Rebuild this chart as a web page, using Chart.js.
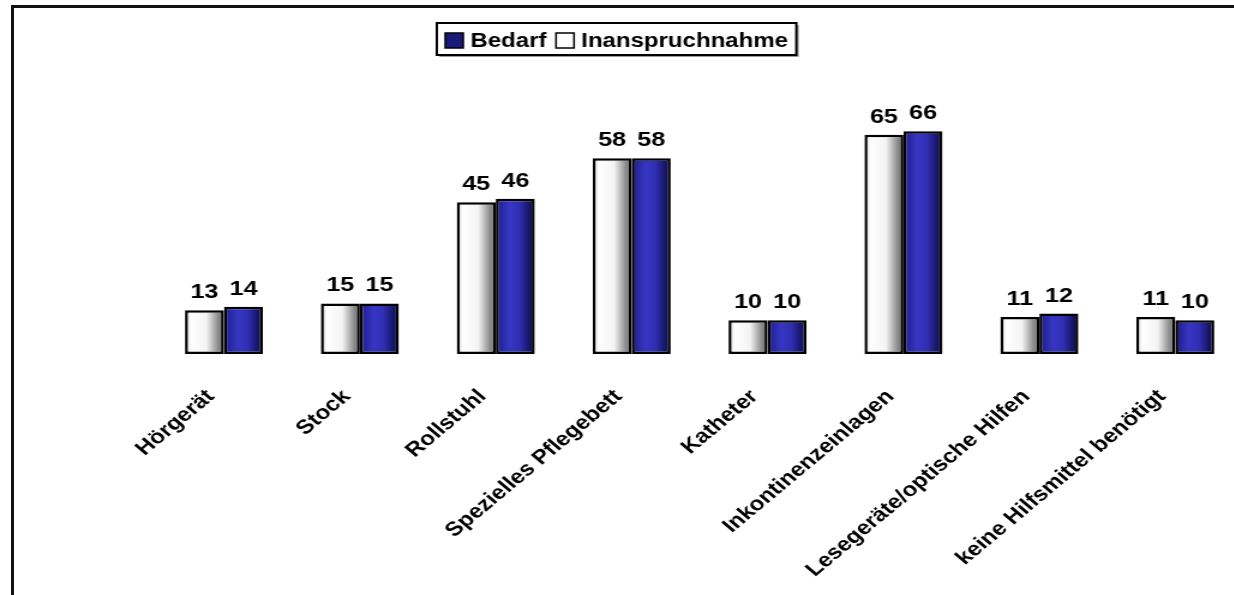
<!DOCTYPE html>
<html><head><meta charset="utf-8">
<script src="https://cdn.jsdelivr.net/npm/chart.js@4.4.1/dist/chart.umd.min.js"></script>
<style>
html,body{margin:0;padding:0;background:#fff;overflow:hidden;width:1234px;height:595px;}
#frame{position:absolute;left:11px;top:5px;width:1300px;height:700px;border:3px solid #111;box-sizing:border-box;}
#wrap{position:absolute;left:0;top:0;width:1050px;height:595px;transform:scaleX(1.2);transform-origin:0 0;}
</style></head><body>
<div id="frame"></div>
<div id="wrap"><canvas id="c" width="1050" height="595"></canvas></div>
<script>
const categories = ['Hörgerät','Stock','Rollstuhl','Spezielles Pflegebett','Katheter','Inkontinenzeinlagen','Lesegeräte/optische Hilfen','keine Hilfsmittel benötigt'];
const inanspruchnahme = [13, 15, 45, 58, 10, 65, 11, 11];
const bedarf = [14, 15, 46, 58, 10, 66, 12, 10];
const seriesNames = ['Inanspruchnahme', 'Bedarf'];
const yMax = 80;

const FONT = '"Liberation Sans", Arial, sans-serif';
const CAT_PCT = 0.574;
const whiteStops = [[0,'#c4c4c4'],[0.15,'#ffffff'],[0.55,'#f4f4f4'],[0.85,'#8c8c8c'],[1,'#6a6a6a']];
const blueStops = [[0,'#1c1c86'],[0.35,'#3636c4'],[0.6,'#3030b4'],[1,'#08083e']];
const legendSwatch = ['#ffffff', '#1a1a7a'];

function barGradient(ctx, stops){
  const chart = ctx.chart;
  const xs = chart.scales.x;
  if (!xs || !chart.chartArea || ctx.type !== 'data') return stops[1][1];
  const catW = (xs.right - xs.left) / categories.length;
  const barW = catW * CAT_PCT / 2;
  const c = xs.getPixelForValue(ctx.dataIndex);
  const left = c - barW + ctx.datasetIndex * barW;
  const g = chart.ctx.createLinearGradient(left, 0, left + barW, 0);
  stops.forEach(s => g.addColorStop(s[0], s[1]));
  return g;
}

const valueLabels = {
  id: 'valueLabels',
  afterDatasetsDraw(chart){
    const ctx = chart.ctx;
    ctx.save();
    ctx.font = 'bold 21px ' + FONT;
    ctx.fillStyle = '#000';
    ctx.textAlign = 'center';
    ctx.textBaseline = 'alphabetic';
    chart.data.datasets.forEach((ds, i) => {
      chart.getDatasetMeta(i).data.forEach((el, j) => {
        ctx.fillText(String(ds.data[j]), el.x, el.y - 12);
      });
    });
    ctx.restore();
  }
};

const boxLegend = {
  id: 'boxLegend',
  afterDraw(chart){
    const ctx = chart.ctx;
    const order = [1, 0];
    ctx.save();
    ctx.font = 'bold 20px ' + FONT;
    const x0 = 364, y0 = 23, h = 32, sw = 15, gap = 6, itemGap = 8, pad = 7;
    const widths = order.map(i => ctx.measureText(chart.data.datasets[i].label).width);
    const total = pad * 2 + order.length * (sw + gap) + widths.reduce((a, b) => a + b, 0) + itemGap * (order.length - 1);
    ctx.fillStyle = '#9a9a9a';
    ctx.fillRect(x0 + 2, y0 + 2, total, h);
    ctx.fillStyle = '#fff';
    ctx.fillRect(x0, y0, total, h);
    ctx.lineWidth = 2;
    ctx.strokeStyle = '#000';
    ctx.strokeRect(x0, y0, total, h);
    let x = x0 + pad;
    order.forEach((i, k) => {
      ctx.fillStyle = legendSwatch[i];
      ctx.fillRect(x, y0 + 10, sw, sw);
      ctx.lineWidth = 1.5;
      ctx.strokeRect(x, y0 + 10, sw, sw);
      x += sw + gap;
      ctx.fillStyle = '#000';
      ctx.textAlign = 'left';
      ctx.textBaseline = 'alphabetic';
      ctx.fillText(chart.data.datasets[i].label, x, y0 + 24);
      x += widths[k] + itemGap;
    });
    ctx.restore();
  }
};

new Chart(document.getElementById('c'), {
  type: 'bar',
  data: {
    labels: categories,
    datasets: [
      { label: seriesNames[0], data: inanspruchnahme, backgroundColor: c => barGradient(c, whiteStops),
        borderColor: '#000', borderWidth: 2.5, borderSkipped: false },
      { label: seriesNames[1], data: bedarf, backgroundColor: c => barGradient(c, blueStops),
        borderColor: '#000', borderWidth: 2.5, borderSkipped: false }
    ]
  },
  options: {
    responsive: false,
    animation: false,
    events: [],
    layout: { padding: { left: 130, right: 14, top: 84, bottom: 0 } },
    datasets: { bar: { categoryPercentage: CAT_PCT, barPercentage: 1 } },
    plugins: { legend: { display: false }, tooltip: { enabled: false }, title: { display: false } },
    scales: {
      x: {
        grid: { display: false },
        border: { display: false },
        afterFit(scale){ scale.height = 241; },
        ticks: {
          autoSkip: false, minRotation: 45, maxRotation: 45,
          padding: 23, labelOffset: -11,
          color: '#000',
          font: { family: FONT, size: 20, weight: 'bold' }
        }
      },
      y: { display: false, min: 0, max: yMax }
    }
  },
  plugins: [valueLabels, boxLegend]
});
</script>
</body></html>
